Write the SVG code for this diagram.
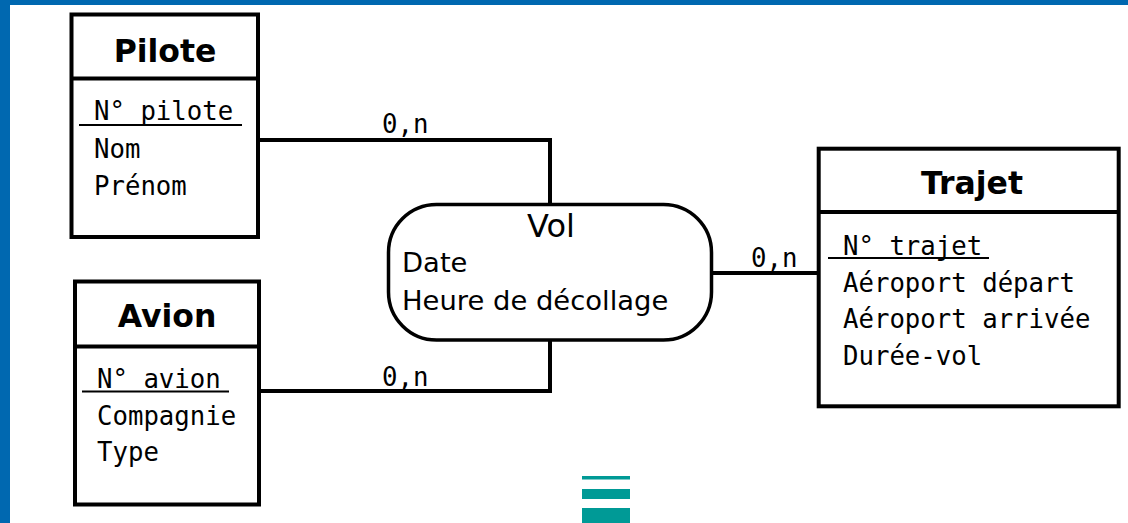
<svg xmlns="http://www.w3.org/2000/svg" width="1128" height="523" viewBox="0 0 1128 523">
  <style>
    .box { fill: #fff; stroke: #000; stroke-width: 4; }
    .rel { fill: #fff; stroke: #000; stroke-width: 3.5; }
    .div { stroke: #000; stroke-width: 4; }
    .ul { stroke: #000; stroke-width: 2; }
    .link { fill: none; stroke: #000; stroke-width: 4; }
    .title { font-family: "DejaVu Sans", sans-serif; font-weight: bold; font-size: 31.5px; text-anchor: middle; fill: #000; }
    .attr { font-family: "DejaVu Sans Mono", monospace; font-size: 25.7px; fill: #000; }
    .card { font-family: "DejaVu Sans Mono", monospace; font-size: 25.7px; fill: #000; }
    .rname { font-family: "DejaVu Sans", sans-serif; font-size: 32px; text-anchor: middle; fill: #000; }
    .rattr { font-family: "DejaVu Sans", sans-serif; font-size: 27.4px; fill: #000; }
  </style>

  <!-- page frame -->
  <rect x="0" y="0" width="1128" height="523" fill="#fff"/>
  <rect x="0" y="0" width="1128" height="5" fill="#0068b0"/>
  <rect x="0" y="0" width="10" height="523" fill="#0068b0"/>

  <!-- connectors -->
  <g id="connectors">
    <polyline class="link" points="258,140 550,140 550,204"/>
    <polyline class="link" points="259,391 550,391 550,340"/>
    <line class="link" x1="711" y1="273" x2="819" y2="273"/>
    <text class="card" x="382" y="133">0,n</text>
    <text class="card" x="382" y="386">0,n</text>
    <text class="card" x="751" y="267">0,n</text>
  </g>

  <!-- entity: Pilote -->
  <g id="pilote">
    <rect class="box" x="71.5" y="14.5" width="186.5" height="222.5"/>
    <line class="div" x1="71.5" y1="78.5" x2="258" y2="78.5"/>
    <text class="title" x="165" y="62">Pilote</text>
    <text class="attr" x="94" y="120">N° pilote</text>
    <line class="ul" x1="79" y1="125" x2="242" y2="125"/>
    <text class="attr" x="94" y="158">Nom</text>
    <text class="attr" x="94" y="195">Prénom</text>
  </g>

  <!-- entity: Avion -->
  <g id="avion">
    <rect class="box" x="75" y="281.5" width="184" height="223"/>
    <line class="div" x1="75" y1="346.5" x2="259" y2="346.5"/>
    <text class="title" x="167" y="327">Avion</text>
    <text class="attr" x="97" y="388">N° avion</text>
    <line class="ul" x1="82" y1="391.5" x2="229" y2="391.5"/>
    <text class="attr" x="97" y="425">Compagnie</text>
    <text class="attr" x="97" y="461">Type</text>
  </g>

  <!-- relationship: Vol -->
  <g id="vol">
    <rect class="rel" x="388.5" y="204.5" width="323" height="135.5" rx="48" ry="48"/>
    <text class="rname" x="551" y="237">Vol</text>
    <text class="rattr" x="402" y="272">Date</text>
    <text class="rattr" x="402" y="310">Heure de décollage</text>
  </g>

  <!-- entity: Trajet -->
  <g id="trajet">
    <rect class="box" x="818.7" y="148.7" width="300" height="257.6"/>
    <line class="div" x1="818.7" y1="212" x2="1118.7" y2="212"/>
    <text class="title" x="972" y="194">Trajet</text>
    <text class="attr" x="843" y="255">N° trajet</text>
    <line class="ul" x1="828" y1="258" x2="989" y2="258"/>
    <text class="attr" x="843" y="292">Aéroport départ</text>
    <text class="attr" x="843" y="328">Aéroport arrivée</text>
    <text class="attr" x="843" y="365">Durée-vol</text>
  </g>

  <!-- menu glyph -->
  <g id="menu-icon" fill="#009a96">
    <rect x="582" y="476" width="48" height="3.5"/>
    <rect x="582" y="489" width="48" height="10"/>
    <rect x="582" y="508" width="48" height="15"/>
  </g>
</svg>
